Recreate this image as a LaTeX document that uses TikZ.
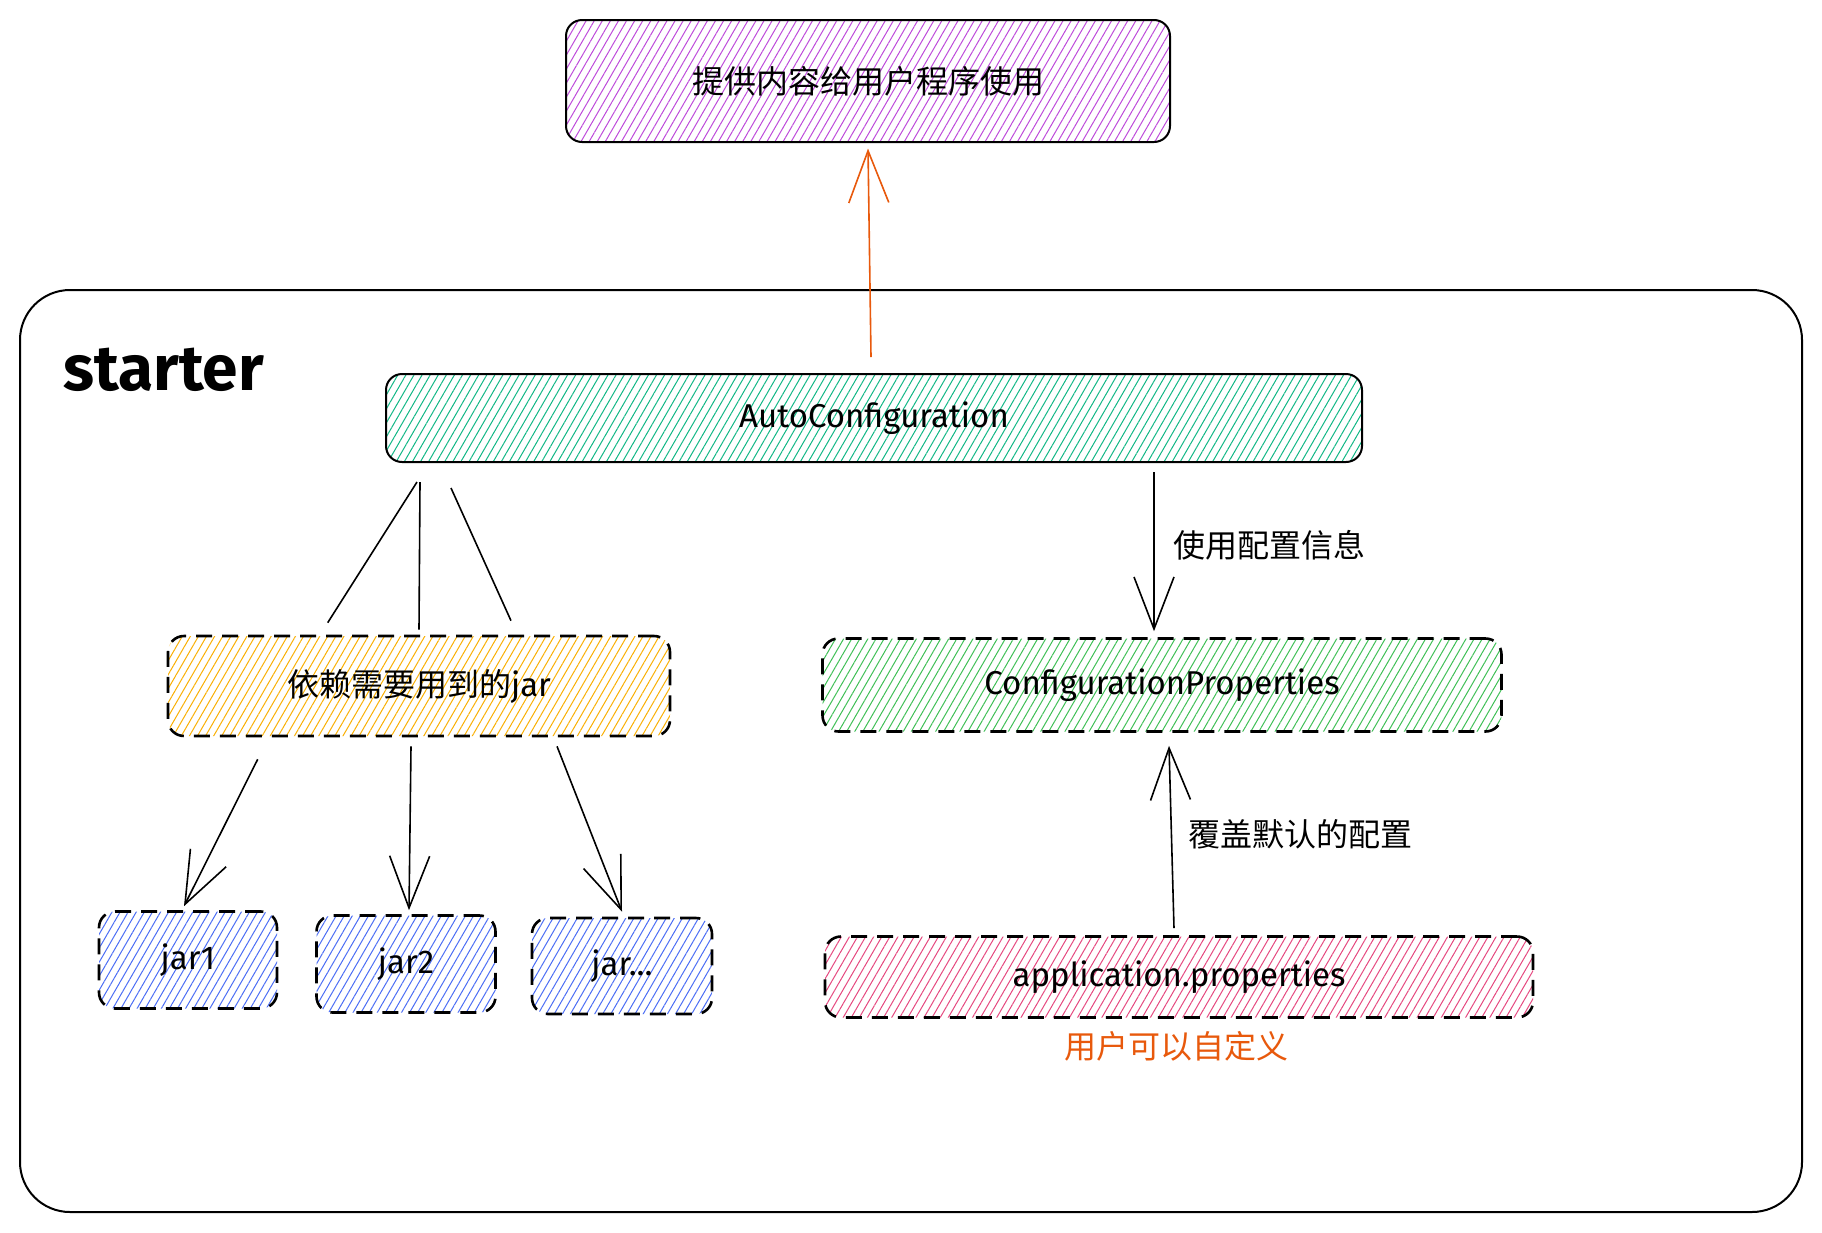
\documentclass[tikz,border=0pt]{standalone}
\usepackage{fontspec}
\setmainfont{Fira Sans}
\newfontfamily\cjk{Noto Sans CJK SC}
\usetikzlibrary{arrows.meta,patterns.meta}
\definecolor{hpurple}{HTML}{BE4BDB}
\definecolor{hteal}{HTML}{12B886}
\definecolor{horange}{HTML}{FAB005}
\definecolor{hgreen}{HTML}{40C057}
\definecolor{hblue}{HTML}{4C6EF5}
\definecolor{hpink}{HTML}{E64980}
\definecolor{accent}{HTML}{E8590C}
\begin{document}
\begin{tikzpicture}[x=1pt,y=-1pt,
  box/.style={rectangle, rounded corners=16pt, line width=2pt, draw=black, inner sep=0pt, align=center},
  dbox/.style={box, dash pattern=on 16pt off 10pt, line width=2.6pt},
  hatch/.style={pattern={Lines[angle=60,distance=7pt,line width=1pt]}, pattern color=#1},
  latin/.style={font=\fontsize{33}{40}\selectfont},
  zh/.style={font=\cjk\fontsize{32}{38}\selectfont},
  conn/.style={line width=1.6pt},
  arr/.style={conn, -{Straight Barb[length=52pt,width=40pt]}}
]
\useasboundingbox (0,0) rectangle (1822,1232);
\fill[white] (0,0) rectangle (1822,1232);

% outer container
\node[box, rounded corners=50pt, minimum width=1782pt, minimum height=922pt] (starterbox) at (911,751) {};
\node[anchor=west, font=\bfseries\fontsize{64}{72}\selectfont] (startertxt) at (60,370) {starter};

% boxes
\node[box, hatch=hpurple, minimum width=604pt, minimum height=122pt, zh] (top) at (868,81) {提供内容给用户程序使用};
\node[box, hatch=hteal, minimum width=976pt, minimum height=88pt, latin] (auto) at (874,418) {AutoConfiguration};
\node[dbox, hatch=horange, minimum width=502pt, minimum height=100pt] (jarbox) at (419,686) {{\cjk\fontsize{32}{38}\selectfont 依赖需要用到的}{\fontsize{33}{40}\selectfont jar}};
\node[dbox, hatch=hblue, minimum width=178pt, minimum height=97pt, latin] (jar1) at (188,960) {jar1};
\node[dbox, hatch=hblue, minimum width=179pt, minimum height=97pt, latin] (jar2) at (406,964) {jar2};
\node[dbox, hatch=hblue, minimum width=180pt, minimum height=96pt, latin] (jar3) at (622,966) {jar...};
\node[dbox, hatch=hgreen, minimum width=679pt, minimum height=93pt, latin] (cfg) at (1162,685) {ConfigurationProperties};
\node[dbox, hatch=hpink, minimum width=708pt, minimum height=81pt, latin] (app) at (1179,977) {application.properties};

% labels
\node[zh, anchor=west] (lbluse) at (1170,545) {使用配置信息};
\node[zh, anchor=west] (lblover) at (1185,834) {覆盖默认的配置};
\node[zh, text=accent] (lblcustom) at (1176,1046) {用户可以自定义};

% connectors
\draw[arr, draw=accent] ([xshift=-3pt,yshift=16pt]auto.north) -- ([yshift=-6pt]top.south);
\draw[arr] ([xshift=280pt,yshift=-9pt]auto.south) -- ([xshift=-8pt,yshift=6pt]cfg.north);
\draw[arr] ([xshift=-5pt,yshift=7pt]app.north) -- ([xshift=7pt,yshift=-13pt]cfg.south);

\draw[conn] ([xshift=32pt,yshift=-19pt]auto.south west) -- ([xshift=161pt,yshift=12pt]jarbox.north west);
\draw[conn] ([xshift=35pt,yshift=-19pt]auto.south west) -- ([yshift=5pt]jarbox.north);
\draw[conn] ([xshift=66pt,yshift=-25pt]auto.south west) -- ([xshift=92pt,yshift=14pt]jarbox.north);

\draw[arr] ([xshift=91pt,yshift=-22pt]jarbox.south west) -- ([xshift=-4pt,yshift=4pt]jar1.north);
\draw[arr] ([xshift=-8pt,yshift=-9pt]jarbox.south) -- ([xshift=3pt,yshift=4pt]jar2.north);
\draw[arr] ([xshift=138pt,yshift=-9pt]jarbox.south) -- ([yshift=5pt]jar3.north);
\end{tikzpicture}
\end{document}
